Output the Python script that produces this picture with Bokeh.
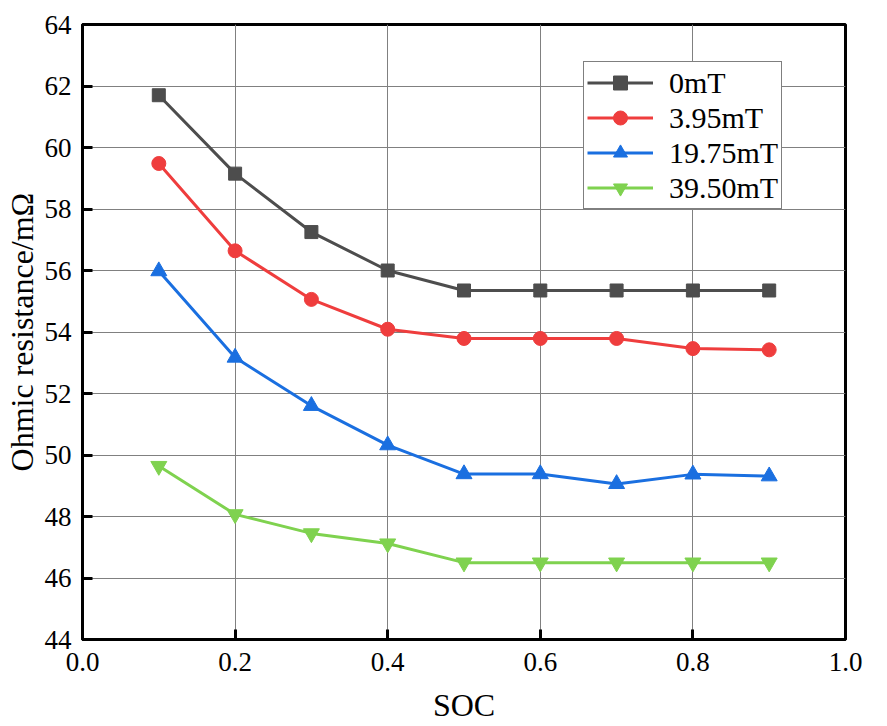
from bokeh.plotting import figure
from bokeh.models import FixedTicker, PrintfTickFormatter, Legend, LegendItem, Range1d
from bokeh.embed import file_html
from bokeh.resources import INLINE

# ---- data ----
soc = [0.1, 0.2, 0.3, 0.4, 0.5, 0.6, 0.7, 0.8, 0.9]
r_0mT = [61.70, 59.15, 57.25, 56.00, 55.35, 55.35, 55.35, 55.35, 55.35]
r_3_95mT = [59.48, 56.64, 55.06, 54.09, 53.79, 53.79, 53.79, 53.46, 53.42]
r_19_75mT = [55.98, 53.17, 51.60, 50.32, 49.38, 49.38, 49.06, 49.37, 49.31]
r_39_50mT = [49.64, 48.07, 47.45, 47.12, 46.50, 46.50, 46.50, 46.50, 46.50]

series_labels = ["0mT", "3.95mT", "19.75mT", "39.50mT"]
x_ticks = [0.0, 0.2, 0.4, 0.6, 0.8, 1.0]
y_ticks = [44, 46, 48, 50, 52, 54, 56, 58, 60, 62, 64]

FONT = "Liberation Serif"

p = figure(frame_width=763, frame_height=615,
           x_range=Range1d(0, 1), y_range=Range1d(44, 64),
           output_backend="svg", toolbar_location=None,
           min_border_left=75, min_border_right=33,
           min_border_top=24, min_border_bottom=71)

p.background_fill_color = "white"
p.border_fill_color = "white"
p.outline_line_color = "black"
p.outline_line_width = 3
p.outline_line_alpha = 1

p.xaxis.ticker = FixedTicker(ticks=x_ticks)
p.yaxis.ticker = FixedTicker(ticks=y_ticks)
p.xaxis.formatter = PrintfTickFormatter(format="%.1f")
p.yaxis.formatter = PrintfTickFormatter(format="%d")

for ax in (p.xaxis, p.yaxis):
    ax.axis_line_color = "black"
    ax.axis_line_width = 3
    ax.major_tick_in = 10
    ax.major_tick_out = 0
    ax.major_tick_line_width = 3
    ax.major_tick_line_color = "black"
    ax.minor_tick_in = 0
    ax.minor_tick_out = 0
    ax.minor_tick_line_color = None
    ax.major_label_text_font = FONT
    ax.major_label_text_font_size = "27px"
    ax.major_label_text_color = "black"
    ax.axis_label_text_font = FONT
    ax.axis_label_text_font_size = "32px"
    ax.axis_label_text_font_style = "normal"
    ax.axis_label_text_color = "black"

p.xaxis.axis_label = "SOC"
p.yaxis.axis_label = "Ohmic resistance/mΩ"
p.xaxis.major_label_standoff = 13
p.xaxis.axis_label_standoff = 13
p.yaxis.major_label_standoff = 11
p.yaxis.axis_label_standoff = 2

p.grid.grid_line_color = "#808080"
p.grid.grid_line_width = 1
p.grid.grid_line_alpha = 1

colors = ["#4d4d4d", "#ef3d3d", "#1a6fe0", "#7fd24f"]
markers = ["square", "circle", "triangle", "inverted_triangle"]
sizes = [13, 14, 16, 16]
data = [r_0mT, r_3_95mT, r_19_75mT, r_39_50mT]

items = []
for lab, ys, c, m, s in zip(series_labels, data, colors, markers, sizes):
    ln = p.line(soc, ys, line_color=c, line_width=3)
    sc = p.scatter(soc, ys, marker=m, size=s, fill_color=c, line_color=c)
    items.append(LegendItem(label=lab, renderers=[ln, sc]))

legend = Legend(items=items, location=(501, 430))
legend.label_text_font = FONT
legend.label_text_font_size = "30px"
legend.label_text_color = "black"
legend.glyph_width = 66
legend.glyph_height = 35
legend.label_height = 35
legend.label_standoff = 16
legend.spacing = 0
legend.padding = 3
legend.margin = 0
legend.border_line_color = "black"
legend.border_line_width = 1.5
legend.background_fill_color = "white"
legend.background_fill_alpha = 1
p.add_layout(legend)

open("out.html", "w").write(file_html(p, INLINE))
